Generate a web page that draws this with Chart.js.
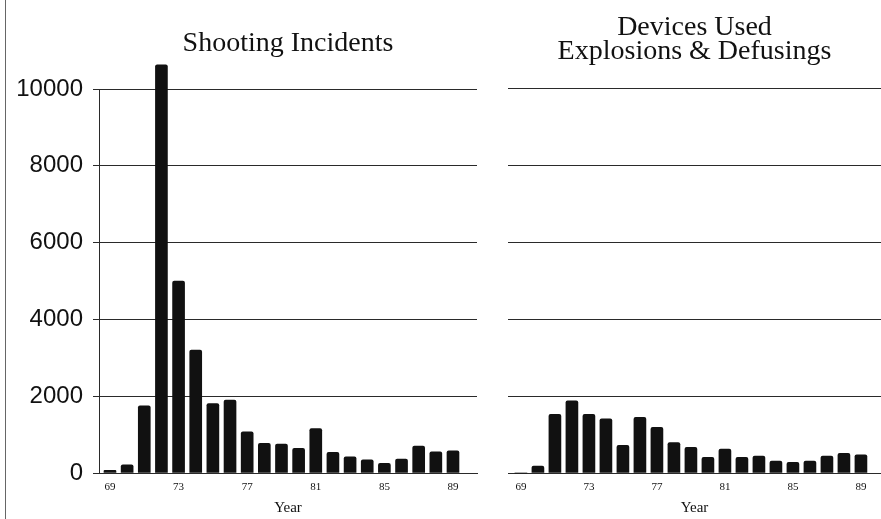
<!DOCTYPE html>
<html>
<head>
<meta charset="utf-8">
<script src="https://cdn.jsdelivr.net/npm/chart.js@4/dist/chart.umd.min.js"></script>
<style>
  html, body { margin: 0; padding: 0; background: #fff; }
  #wrap { position: relative; width: 881px; height: 519px; overflow: hidden; }
  #edge { position: absolute; left: 5px; top: 0; width: 0; height: 519px; border-left: 1px solid #666; }
  #left { position: absolute; left: 0; top: 0; }
  #right { position: absolute; left: 480px; top: 0; }
</style>
</head>
<body>
<div id="wrap">
  <div id="edge"></div>
  <canvas id="left" width="480" height="519"></canvas>
  <canvas id="right" width="401" height="519"></canvas>
</div>
<script>
const years = [69, 70, 71, 72, 73, 74, 75, 76, 77, 78, 79, 80, 81, 82, 83, 84, 85, 86, 87, 88, 89];
const shootingIncidents = [70, 210, 1750, 10630, 5000, 3200, 1810, 1900, 1070, 770, 750, 640, 1160, 540, 420, 340, 250, 360, 700, 550, 580];
const devicesUsed = [0, 180, 1530, 1880, 1530, 1410, 720, 1450, 1190, 790, 670, 410, 620, 410, 440, 310, 280, 310, 440, 510, 470];
const yearTicks = [69, 73, 77, 81, 85, 89];
const valueTicks = [0, 2000, 4000, 6000, 8000, 10000];

const INK = "#111";
const GRID = "#2a2a2a";

function toPoints(vals) {
  return years.map((y, i) => ({ x: y, y: vals[i] }));
}

function makeChart(id, opts) {
  const ctx = document.getElementById(id).getContext("2d");
  return new Chart(ctx, {
    type: "bar",
    data: {
      datasets: [{
        data: toPoints(opts.values),
        backgroundColor: INK,
        borderWidth: 0,
        barThickness: 12,
        borderRadius: { topLeft: 2, topRight: 2 },
        clip: false,
      }],
    },
    options: {
      responsive: false,
      animation: false,
      layout: { padding: { left: opts.padLeft, right: opts.padRight, top: 0, bottom: 0 } },
      plugins: {
        legend: { display: false },
        tooltip: { enabled: false },
        title: {
          display: true,
          fullSize: false,
          text: opts.title,
          color: INK,
          font: { family: "Liberation Serif", size: 28, weight: "normal", lineHeight: opts.titleLH },
          padding: opts.titlePad,
        },
      },
      scales: {
        x: {
          type: "linear",
          offset: false,
          min: opts.xMin,
          max: opts.xMax,
          afterBuildTicks: (s) => { s.ticks = yearTicks.map((v) => ({ value: v })); },
          afterFit: (s) => { s.height = 46; },
          grid: { display: false, drawTicks: false },
          border: { display: true, color: GRID, width: 1 },
          ticks: {
            color: INK,
            padding: 8,
            maxRotation: 0,
            autoSkip: false,
            font: { family: "Liberation Serif", size: 11 },
            callback: (v) => String(v),
          },
          title: {
            display: true,
            text: "Year",
            color: INK,
            font: { family: "Liberation Serif", size: 15 },
            padding: { top: 2, bottom: 2 },
          },
        },
        y: {
          min: 0,
          max: 10000,
          afterBuildTicks: (s) => { s.ticks = valueTicks.map((v) => ({ value: v })); },
          afterFit: (s) => { s.width = opts.yWidth; },
          grid: {
            color: GRID,
            lineWidth: 1,
            drawTicks: opts.showY,
            tickLength: 6,
          },
          border: { display: opts.showY, color: GRID, width: 1 },
          ticks: {
            display: opts.showY,
            color: INK,
            padding: 10,
            font: { family: "Liberation Sans", size: 24 },
            callback: (v) => String(v),
          },
        },
      },
    },
  });
}

makeChart("left", {
  values: shootingIncidents,
  title: "Shooting Incidents",
  titleLH: 1.2,
  titlePad: { top: 27, bottom: 28.4 },
  padLeft: 0,
  padRight: 3,
  yWidth: 99,
  showY: true,
  xMin: 68.36,
  xMax: 90.40,
});

makeChart("right", {
  values: devicesUsed,
  title: ["Devices Used", "Explosions & Defusings"],
  titleLH: 0.86,
  titlePad: { top: 16, bottom: 24.8 },
  padLeft: 28,
  padRight: 0,
  yWidth: 0,
  showY: false,
  xMin: 68.24,
  xMax: 90.18,
});
</script>
</body>
</html>
